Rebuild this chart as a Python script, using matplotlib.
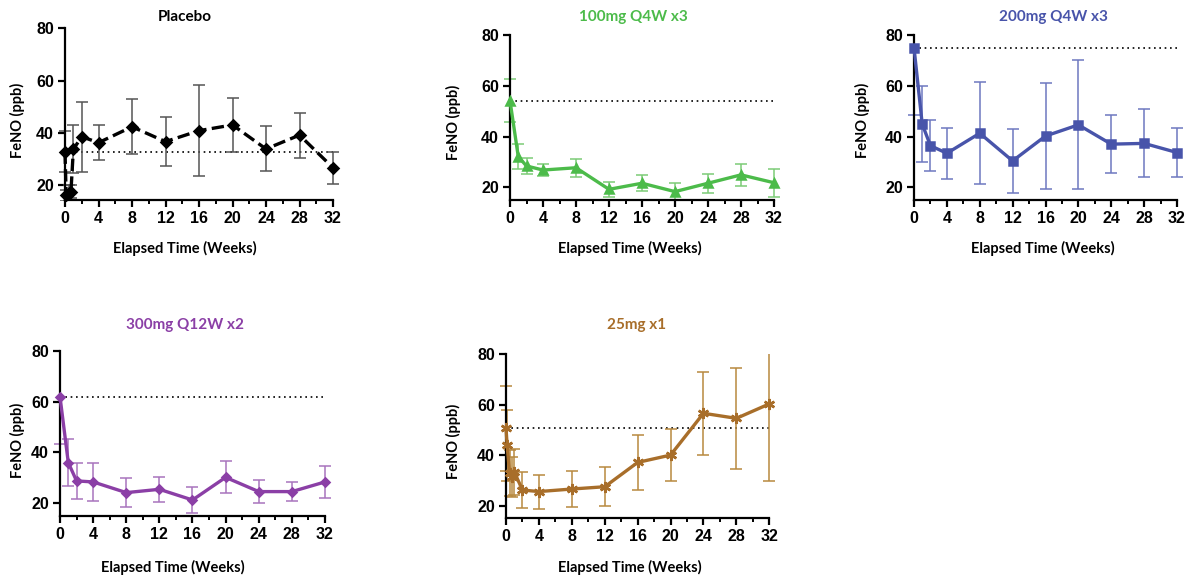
import numpy as np
import matplotlib
matplotlib.use("Agg")
import matplotlib.pyplot as plt
from matplotlib.ticker import MultipleLocator

W, H = 1195, 578

# ---- data (weeks, mean FeNO, error) ----
weeks_dense = [0, 0.14, 0.43, 0.71, 1, 2, 4, 8, 12, 16, 20, 24, 28, 32]
weeks = [0, 1, 2, 4, 8, 12, 16, 20, 24, 28, 32]

placebo_mean = [32.8, 16.0, 17.0, 17.5, 33.7, 38.5, 36.2, 42.3, 36.6, 40.8, 43.0, 33.8, 39.1, 26.6]
placebo_err = [8.0, 2.0, 3.0, 2.5, 9.2, 13.4, 6.7, 10.5, 9.5, 17.3, 10.2, 8.6, 8.6, 6.1]

mg100_mean = [54.1, 32.1, 28.4, 26.8, 27.7, 19.2, 21.6, 18.3, 21.6, 24.9, 21.8]
mg100_err = [8.5, 5.0, 3.2, 2.5, 3.6, 3.0, 3.2, 3.2, 3.7, 4.2, 5.6]

mg200_mean = [75.0, 44.9, 36.4, 33.4, 41.3, 30.4, 40.2, 44.6, 37.0, 37.3, 33.7]
mg200_err = [26.5, 15.0, 10.0, 10.0, 20.0, 12.7, 20.8, 25.4, 11.5, 13.4, 9.6]

mg300_mean = [61.9, 36.0, 28.8, 28.4, 24.2, 25.5, 21.3, 30.2, 24.6, 24.6, 28.4]
mg300_err = [18.5, 9.2, 7.0, 7.6, 5.8, 4.8, 5.1, 6.3, 4.4, 3.8, 6.3]

mg25_mean = [50.7, 44.0, 33.0, 31.5, 33.5, 26.3, 25.7, 26.7, 27.6, 37.2, 40.1, 56.6, 54.6, 60.3]
mg25_err = [16.8, 14.0, 9.0, 8.0, 9.1, 7.1, 6.7, 7.1, 7.6, 11.0, 10.2, 16.3, 19.8, 30.5]

TEXT_FONT = ["Lato", "DejaVu Sans"]
TICK_FONT = ["Liberation Sans", "DejaVu Sans"]

# panel pixel geometry: x of week 0, x of week 32, y of 80, y of 20, y of axis bottom
panels = [
    dict(name="Placebo", x=weeks_dense, y=placebo_mean, e=placebo_err,
         color="black", ecolor="#555555", ls="--", marker="D", ms=5,
         geo=(65, 333, 28.3, 185, 200),
         title_xy=(185, 17), xlab_xy=(185, 248), ylab_xy=(17, 120)),
    dict(name="100mg Q4W x3", x=weeks, y=mg100_mean, e=mg100_err,
         color="#4cbb4a", ecolor="#7ccb76", ls="-", marker="^", ms=6,
         geo=(510, 774, 35, 187.3, 200),
         title_xy=(633, 17), xlab_xy=(630, 248), ylab_xy=(453, 122)),
    dict(name="200mg Q4W x3", x=weeks, y=mg200_mean, e=mg200_err,
         color="#4854aa", ecolor="#6e78c0", ls="-", marker="s", ms=6,
         geo=(914, 1177, 35, 187.3, 200),
         title_xy=(1053, 17), xlab_xy=(1043, 248), ylab_xy=(862, 120)),
    dict(name="300mg Q12W x2", x=weeks, y=mg300_mean, e=mg300_err,
         color="#8b3fa6", ecolor="#a874bd", ls="-", marker="D", ms=4,
         geo=(60, 325, 350.7, 503.3, 516),
         title_xy=(185, 325), xlab_xy=(173, 567), ylab_xy=(17, 440)),
    dict(name="25mg x1", x=weeks_dense, y=mg25_mean, e=mg25_err,
         color="#a86e2a", ecolor="#b8893f", ls="-", marker=(6, 2, 0), ms=8,
         geo=(506, 769.3, 354, 506, 518),
         title_xy=(637, 325), xlab_xy=(630, 567), ylab_xy=(453, 441)),
]

fig = plt.figure(figsize=(W / 100, H / 100), dpi=100)
pad = 0.7  # weeks of room either side of the axis

for p in panels:
    x0, x32, y80, y20, ybot = p["geo"]
    sx = (x32 - x0) / 32.0
    sy = (y20 - y80) / 60.0
    ymin = 20 - (ybot - y20) / sy
    left = x0 - pad * sx
    right = x32 + pad * sx
    ax = fig.add_axes([left / W, 1 - ybot / H, (right - left) / W, (ybot - y80) / H])
    ax.set_xlim(-pad, 32 + pad)
    ax.set_ylim(ymin, 80)
    ax.patch.set_alpha(0)

    ax.plot([0, 32], [p["y"][0]] * 2, color="black", ls=(0, (1, 2.2)), lw=1.2)
    ax.errorbar(p["x"], p["y"], yerr=p["e"], fmt="none", ecolor=p["ecolor"],
                elinewidth=1.1, capsize=4, capthick=1.1, zorder=2)
    ax.plot(p["x"], p["y"], color=p["color"], ls=p["ls"], lw=2.4,
            marker=p["marker"], ms=p["ms"], mew=1.8, mec=p["color"],
            mfc=p["color"], zorder=3, clip_on=False)

    for s in ["top", "right"]:
        ax.spines[s].set_visible(False)
    ax.spines["left"].set_position(("data", 0))
    ax.spines["bottom"].set_bounds(0, 32)
    for s in ["left", "bottom"]:
        ax.spines[s].set_linewidth(1.6)

    ax.set_xticks(np.arange(0, 33, 4))
    ax.xaxis.set_minor_locator(MultipleLocator(2))
    ax.set_yticks([20, 40, 60, 80])
    ax.tick_params(axis="both", which="major", length=5, width=1.6, labelsize=11.5, pad=3)
    ax.tick_params(axis="x", which="minor", length=3, width=1.4)
    for lab in ax.get_xticklabels() + ax.get_yticklabels():
        lab.set_family(TICK_FONT)
        lab.set_fontweight("bold")

    tx, ty = p["title_xy"]
    fig.text(tx / W, 1 - ty / H, p["name"], ha="center", va="center",
             color=p["color"], fontsize=11, fontweight="bold", family=TEXT_FONT)
    lx, ly = p["xlab_xy"]
    fig.text(lx / W, 1 - ly / H, "Elapsed Time (Weeks)", ha="center", va="center",
             fontsize=10.5, fontweight="bold", family=TEXT_FONT)
    yx, yy = p["ylab_xy"]
    fig.text(yx / W, 1 - yy / H, "FeNO (ppb)", ha="center", va="center", rotation=90,
             fontsize=10.5, fontweight="bold", family=TEXT_FONT)

fig.savefig("out.png", dpi=100)
